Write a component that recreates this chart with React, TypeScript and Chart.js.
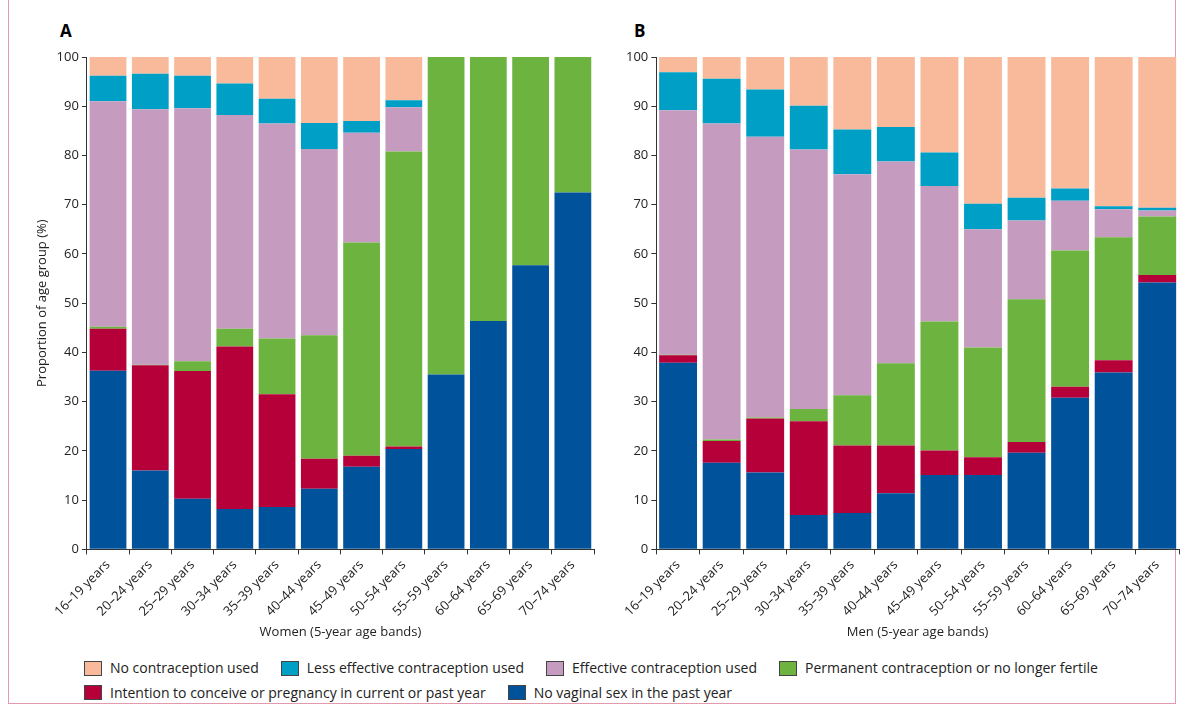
import React, { useEffect, useRef } from "react";
import { Chart, registerables } from "chart.js";
Chart.register(...registerables);

const ageBands = ["16–19 years","20–24 years","25–29 years","30–34 years","35–39 years","40–44 years","45–49 years","50–54 years","55–59 years","60–64 years","65–69 years","70–74 years"];
const seriesNames = ["No vaginal sex in the past year","Intention to conceive or pregnancy in current or past year","Permanent contraception or no longer fertile","Effective contraception used","Less effective contraception used","No contraception used"];
const colors = ["#00529b","#b5003a","#6db33f","#c59bc0","#00a0c6","#f9b99b"];

// cumulative tops of each stack segment (%), bottom to top
const womenTops = [
  [36.3,16.0,10.3,8.2,8.6,12.3,16.8,20.4,35.5,46.4,57.7,72.5],
  [44.8,37.4,36.2,41.2,31.5,18.4,19.0,20.9,35.5,46.4,57.7,72.5],
  [45.2,37.5,38.2,44.8,42.8,43.5,62.3,80.8,100,100,100,100],
  [91.0,89.4,89.6,88.2,86.5,81.3,84.6,89.8,100,100,100,100],
  [96.2,96.6,96.2,94.6,91.5,86.6,87.0,91.2,100,100,100,100],
  [100,100,100,100,100,100,100,100,100,100,100,100],
];
const menTops = [
  [37.9,17.6,15.6,7.0,7.4,11.4,15.1,15.1,19.6,30.8,35.9,54.2],
  [39.4,22.0,26.6,26.0,21.1,21.1,20.1,18.7,21.8,33.0,38.4,55.7],
  [39.5,22.3,26.8,28.5,31.3,37.8,46.3,41.0,50.8,60.7,63.4,67.6],
  [89.2,86.5,83.8,81.2,76.2,78.8,73.8,65.0,66.8,70.8,69.1,68.8],
  [96.9,95.6,93.4,90.1,85.3,85.8,80.6,70.2,71.4,73.3,69.7,69.4],
  [100,100,100,100,100,100,100,100,100,100,100,100],
];
const yTicks = [0,10,20,30,40,50,60,70,80,90,100];

const FONT = "'Open Sans', sans-serif";

function Panel({ tops, xTitle, yTitle, padLeft, padRight }: { tops: number[][]; xTitle: string; yTitle?: string; padLeft: number; padRight: number }) {
  const ref = useRef<HTMLCanvasElement>(null);
  useEffect(() => {
    const datasets = tops.map((row, i) => ({
      label: seriesNames[i],
      data: row.map((v, j) => +(v - (i > 0 ? tops[i - 1][j] : 0)).toFixed(2)),
      backgroundColor: colors[i],
      borderWidth: 0,
      barPercentage: 0.87,
      categoryPercentage: 1,
    }));
    const chart = new Chart(ref.current!, {
      type: "bar",
      data: { labels: ageBands, datasets },
      options: {
        animation: false,
        responsive: false,
        maintainAspectRatio: false,
        layout: { padding: { top: 14, right: padRight, left: padLeft } },
        plugins: { legend: { display: false }, tooltip: { enabled: false } },
        scales: {
          x: {
            stacked: true,
            grid: { display: true, drawOnChartArea: false, tickLength: 5, color: "#333", offset: true },
            border: { color: "#333" },
            ticks: { color: "#222", font: { family: FONT, size: 13 }, maxRotation: 45, minRotation: 45, autoSkip: false },
            title: { display: true, text: xTitle, color: "#222", font: { family: FONT, size: 13 }, padding: { top: 2 } },
          },
          y: {
            stacked: true, min: 0, max: 100,
            afterBuildTicks: (ax: any) => { ax.ticks = yTicks.map((v) => ({ value: v })); },
            grid: { display: true, drawOnChartArea: false, tickLength: 5, color: "#333" },
            border: { color: "#333" },
            ticks: { color: "#222", font: { family: FONT, size: 13 } },
            title: { display: !!yTitle, text: yTitle || "", color: "#222", font: { family: FONT, size: 13 } },
          },
        },
      },
    });
    return () => chart.destroy();
  }, []);
  return <canvas ref={ref} width={580} height={601} />;
}

function Legend() {
  const item = (i: number) => (
    <span style={{ display: "inline-flex", alignItems: "center", marginRight: 22 }}>
      <span style={{ width: 16, height: 13, background: colors[i], border: "1px solid #444", marginRight: 8, display: "inline-block" }} />
      {seriesNames[i]}
    </span>
  );
  return (
    <div style={{ position: "absolute", left: 84, top: 657, fontFamily: FONT, fontSize: 14, color: "#222", lineHeight: "22px" }}>
      <div>{item(5)}{item(4)}{item(3)}{item(2)}</div>
      <div>{item(1)}{item(0)}</div>
    </div>
  );
}

export default function App() {
  return (
    <div style={{ position: "fixed", left: 0, top: 0, width: 1184, height: 706, background: "#fff", overflow: "hidden" }}>
      <div style={{ position: "absolute", left: 8, top: -2, width: 1168, height: 706, border: "1px solid #e49aad", boxSizing: "border-box" }} />
      <div style={{ position: "absolute", left: 60, top: 19, fontFamily: FONT, fontWeight: 700, fontSize: 17 }}>A</div>
      <div style={{ position: "absolute", left: 634, top: 19, fontFamily: FONT, fontWeight: 700, fontSize: 17 }}>B</div>
      <div style={{ position: "absolute", left: 18, top: 43 }}>
        <Panel tops={womenTops} xTitle="Women (5-year age bands)" yTitle="Proportion of age group (%)" padLeft={12} padRight={4} />
      </div>
      <div style={{ position: "absolute", left: 605, top: 43 }}>
        <Panel tops={menTops} xTitle="Men (5-year age bands)" padLeft={18} padRight={6} />
      </div>
      <Legend />
    </div>
  );
}
